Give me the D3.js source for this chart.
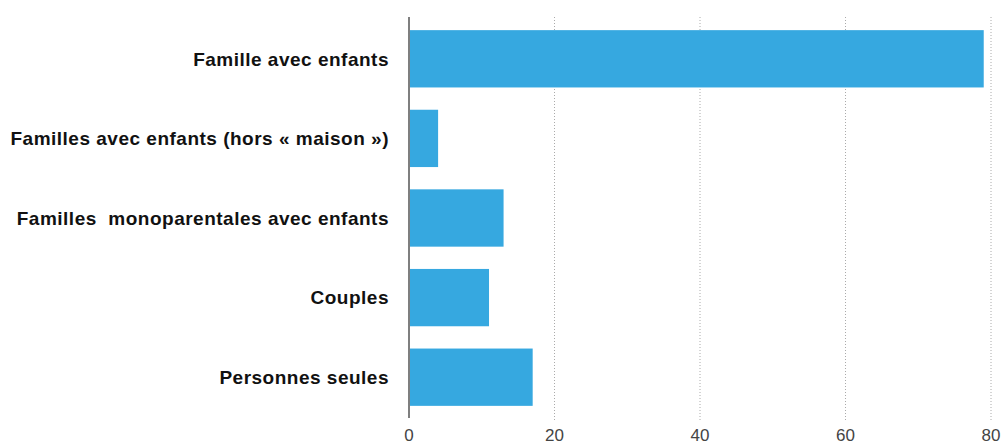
<!DOCTYPE html>
<html>
<head>
<meta charset="utf-8">
<script src="https://cdn.jsdelivr.net/npm/d3@7"></script>
<style>
  html, body { margin: 0; padding: 0; background: #fff; }
  svg { display: block; }
</style>
</head>
<body>
<svg id="chart" width="1005" height="441"></svg>
<script>
const categories = [
  "Famille avec enfants",
  "Familles avec enfants (hors « maison »)",
  "Familles  monoparentales avec enfants",
  "Couples",
  "Personnes seules"
];
const values = [79, 4, 13, 11, 17];
const tickValues = [0, 20, 40, 60, 80];

const svg = d3.select("#chart");
const x = d3.scaleLinear().domain([0, 80]).range([409, 991]);
const y = d3.scaleBand().domain(categories).range([19, 417]).paddingInner(0.28).paddingOuter(0.14);

// grid lines
svg.append("g").selectAll("line").data(tickValues.filter(d => d > 0)).join("line")
  .attr("x1", d => x(d)).attr("x2", d => x(d))
  .attr("y1", 17).attr("y2", 420)
  .attr("stroke", "#aaa").attr("stroke-width", 1)
  .attr("stroke-dasharray", "1,2");

// bars
svg.append("g").selectAll("rect").data(values).join("rect")
  .attr("x", x(0) + 1)
  .attr("y", (d, i) => y(categories[i]))
  .attr("width", d => x(d) - x(0) - 1)
  .attr("height", y.bandwidth())
  .attr("fill", "#36a8e0");

// axis line
svg.append("line")
  .attr("x1", x(0)).attr("x2", x(0))
  .attr("y1", 17).attr("y2", 418)
  .attr("stroke", "#555").attr("stroke-width", 1.5);

// category labels
svg.append("g").selectAll("text").data(categories).join("text")
  .attr("x", 389)
  .attr("y", d => y(d) + y.bandwidth() / 2)
  .attr("dy", "0.36em")
  .attr("text-anchor", "end")
  .attr("font-family", "Liberation Sans, Arial, sans-serif")
  .attr("font-weight", "bold")
  .attr("font-size", 19)
  .attr("letter-spacing", "0.5px")
  .attr("fill", "#111")
  .style("white-space", "pre")
  .text(d => d);

// tick labels
svg.append("g").selectAll("text").data(tickValues).join("text")
  .attr("x", d => x(d))
  .attr("y", 441)
  .attr("text-anchor", "middle")
  .attr("font-family", "Liberation Sans, Arial, sans-serif")
  .attr("font-size", 17)
  .attr("fill", "#444")
  .text(d => d);
</script>
</body>
</html>
